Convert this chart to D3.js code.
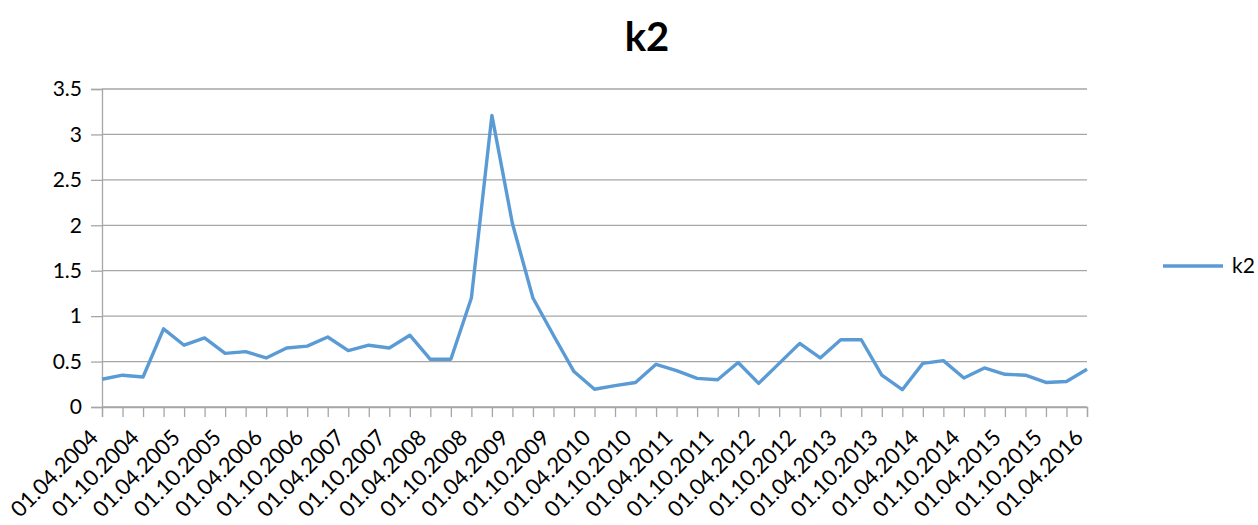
<!DOCTYPE html>
<html>
<head>
<meta charset="utf-8">
<script src="https://cdn.jsdelivr.net/npm/d3@7"></script>
<style>
body { margin: 0; background: #fff; }
svg { display: block; font-family: Lato, "Open Sans", sans-serif; }
</style>
</head>
<body>
<svg id="main" width="1258" height="525"></svg>
<script>
var dates = [
	"01.04.2004","01.07.2004","01.10.2004","01.01.2005","01.04.2005","01.07.2005","01.10.2005",
	"01.01.2006","01.04.2006","01.07.2006","01.10.2006","01.01.2007","01.04.2007","01.07.2007",
	"01.10.2007","01.01.2008","01.04.2008","01.07.2008","01.10.2008","01.01.2009","01.04.2009",
	"01.07.2009","01.10.2009","01.01.2010","01.04.2010","01.07.2010","01.10.2010","01.01.2011",
	"01.04.2011","01.07.2011","01.10.2011","01.01.2012","01.04.2012","01.07.2012","01.10.2012",
	"01.01.2013","01.04.2013","01.07.2013","01.10.2013","01.01.2014","01.04.2014","01.07.2014",
	"01.10.2014","01.01.2015","01.04.2015","01.07.2015","01.10.2015","01.01.2016","01.04.2016"
];
var k2 = [
	0.305, 0.35, 0.33, 0.86, 0.68, 0.76, 0.59,
	0.61, 0.54, 0.65, 0.67, 0.77, 0.62, 0.68,
	0.65, 0.79, 0.525, 0.525, 1.20, 3.21, 2.02,
	1.20, 0.79, 0.39, 0.195, 0.235, 0.27, 0.47,
	0.40, 0.315, 0.30, 0.49, 0.26, 0.48, 0.70,
	0.54, 0.74, 0.74, 0.35, 0.19, 0.48, 0.51,
	0.32, 0.43, 0.36, 0.35, 0.27, 0.28, 0.415
];
var yTicks = [0, 0.5, 1, 1.5, 2, 2.5, 3, 3.5];
var seriesName = "k2";

var svg = d3.select("#main");
var plotLeft = 102, plotRight = 1087, plotTop = 89, plotBottom = 407;
var grey = "#a6a6a6";

var x = d3.scalePoint().domain(dates).range([plotLeft, plotRight]);
var y = d3.scaleLinear().domain([0, 3.5]).range([plotBottom, plotTop]);

// title
svg.append("text")
	.attr("x", 647)
	.attr("y", 51)
	.attr("text-anchor", "middle")
	.attr("font-size", 40)
	.attr("font-weight", "bold")
	.attr("fill", "#000")
	.text(seriesName);

// gridlines
svg.append("g").selectAll("line")
	.data(yTicks)
	.join("line")
	.attr("x1", plotLeft).attr("x2", plotRight)
	.attr("y1", function(d){ return y(d); })
	.attr("y2", function(d){ return y(d); })
	.attr("stroke", grey)
	.attr("stroke-width", 1.3);

// y axis
var yAxis = svg.append("g")
	.attr("transform", "translate(" + plotLeft + ",0)")
	.call(d3.axisLeft(y).tickValues(yTicks).tickSize(11).tickPadding(9).tickFormat(d3.format("")));
yAxis.select(".domain").attr("stroke", grey).attr("stroke-width", 1.3);
yAxis.selectAll(".tick line").attr("stroke", grey).attr("stroke-width", 1.3);
yAxis.selectAll(".tick text").attr("font-size", 21).attr("fill", "#000").attr("font-family", "Lato");

// x axis, labels on every second quarter
var xAxis = svg.append("g")
	.attr("transform", "translate(0," + plotBottom + ")")
	.call(d3.axisBottom(x).tickSize(10).tickFormat(function(d, i){ return i % 2 == 0 ? d : ""; }));
xAxis.select(".domain").attr("stroke", grey).attr("stroke-width", 1.3);
xAxis.selectAll(".tick line").attr("stroke", grey).attr("stroke-width", 1.3);
xAxis.selectAll(".tick text")
	.attr("font-size", 22)
	.attr("fill", "#000")
	.attr("font-family", "Lato")
	.attr("text-anchor", "end")
	.attr("x", 0).attr("y", 0).attr("dy", 0)
	.attr("transform", "translate(-3,32) rotate(-45)");

// line
var line = d3.line()
	.x(function(d, i){ return x(dates[i]); })
	.y(function(d){ return y(d); });

svg.append("path")
	.datum(k2)
	.attr("d", line)
	.attr("fill", "none")
	.attr("stroke", "#5b9bd5")
	.attr("stroke-width", 3.4)
	.attr("stroke-linejoin", "round");

// legend
var lg = svg.append("g").attr("transform", "translate(1163,266)");
lg.append("line")
	.attr("x1", 0).attr("x2", 60)
	.attr("stroke", "#5b9bd5").attr("stroke-width", 3.4);
lg.append("text")
	.attr("x", 69).attr("y", 7)
	.attr("font-size", 21)
	.attr("fill", "#000")
	.text(seriesName);
</script>
</body>
</html>
